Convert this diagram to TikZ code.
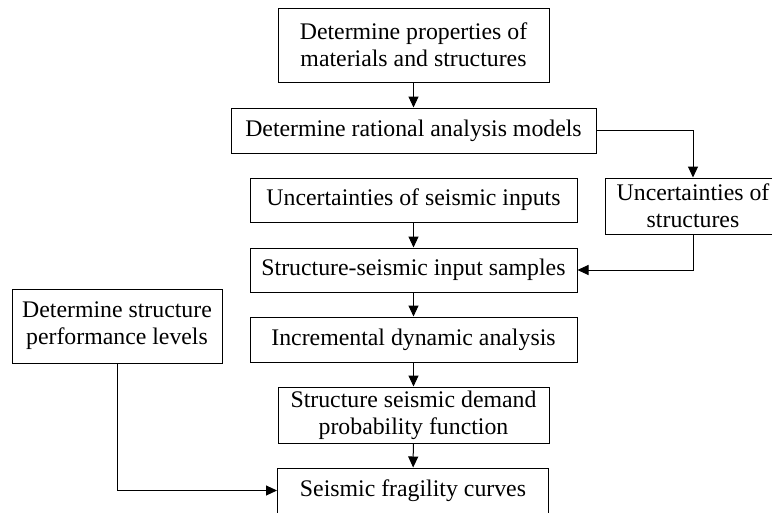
\documentclass[tikz,border=0pt]{standalone}
\usepackage{fontspec}
\setmainfont{Liberation Serif}
\usetikzlibrary{arrows.meta}
\begin{document}
\begin{tikzpicture}[x=1pt,y=-1pt,
  box/.style={draw,line width=1pt,align=center,inner sep=0pt,font=\fontsize{23.8}{27}\selectfont},
  arr/.style={line width=1pt,-{Triangle[length=11pt,width=10pt]}}]
\clip (0,0) rectangle (772,512);
\fill[white] (0,0) rectangle (772,512);
\node[box,minimum width=271pt,minimum height=74pt] (b1) at (413.5,45) {Determine properties of\\materials and structures};
\node[box,minimum width=365pt,minimum height=45pt] (b2) at (413.5,130.5) {Determine rational analysis models};
\node[box,minimum width=327pt,minimum height=44pt] (b3) at (413.5,200) {Uncertainties of seismic inputs};
\node[box,minimum width=327pt,minimum height=44pt] (b4) at (413.5,270) {Structure-seismic input samples};
\node[box,minimum width=176pt,minimum height=56pt] (bR) at (693,206) {Uncertainties of\\structures};
\node[box,minimum width=327pt,minimum height=45pt] (b6) at (413.5,339.5) {Incremental dynamic analysis};
\node[box,minimum width=271pt,minimum height=56pt] (b7) at (413.5,415) {Structure seismic demand\\probability function};
\node[box,minimum width=271pt,minimum height=45pt] (b8) at (413,490.5) {Seismic fragility curves};
\node[box,minimum width=210pt,minimum height=74pt] (b5) at (117,326) {Determine structure\\performance levels};
\draw[arr] (b1) -- (b2);
\draw[arr] (b2.east) -| (bR.north);
\draw[arr] (b3) -- (b4);
\draw[arr] (bR.south) |- (b4.east);
\draw[arr] (b4) -- (b6);
\draw[arr] (b6) -- (b7);
\draw[arr] (b7) -- (b8);
\draw[arr] (b5.south) |- (b8.west);
\end{tikzpicture}
\end{document}
